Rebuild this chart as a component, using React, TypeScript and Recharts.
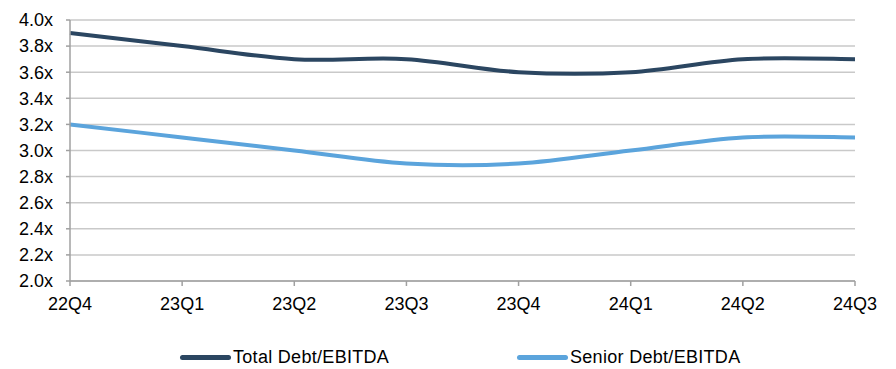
import { LineChart, Line, XAxis, YAxis, CartesianGrid, Legend } from 'recharts';

const quarters = ['22Q4', '23Q1', '23Q2', '23Q3', '23Q4', '24Q1', '24Q2', '24Q3'];
const totalDebt = [3.9, 3.8, 3.7, 3.7, 3.6, 3.6, 3.7, 3.7];
const seniorDebt = [3.2, 3.1, 3.0, 2.9, 2.9, 3.0, 3.1, 3.1];
const yTicks = [2.0, 2.2, 2.4, 2.6, 2.8, 3.0, 3.2, 3.4, 3.6, 3.8, 4.0];

const data = quarters.map((q, i) => ({ q, total: totalDebt[i], senior: seniorDebt[i] }));

const DARK = '#2b4661';
const LIGHT = '#5ba4dc';
const FONT = '"Liberation Sans", Arial, sans-serif';

// excel-style smoothed line (bezier, control points at 1/6 of neighbour span)
function smoothCurve(ctx: any) {
  let pts: number[][] = [];
  return {
    areaStart() {},
    areaEnd() {},
    lineStart() { pts = []; },
    point(x: number, y: number) { pts.push([+x, +y]); },
    lineEnd() {
      if (!pts.length) return;
      ctx.moveTo(pts[0][0], pts[0][1]);
      for (let i = 0; i < pts.length - 1; i++) {
        const p0 = pts[Math.max(i - 1, 0)];
        const p1 = pts[i];
        const p2 = pts[i + 1];
        const p3 = pts[Math.min(i + 2, pts.length - 1)];
        ctx.bezierCurveTo(
          p1[0] + (p2[0] - p0[0]) / 6, p1[1] + (p2[1] - p0[1]) / 6,
          p2[0] - (p3[0] - p1[0]) / 6, p2[1] - (p3[1] - p1[1]) / 6,
          p2[0], p2[1]
        );
      }
    },
  };
}

const legendItems = [
  { label: 'Total Debt/EBITDA', color: DARK },
  { label: 'Senior Debt/EBITDA', color: LIGHT },
];

function renderLegend() {
  return (
    <div style={{ position: 'relative', height: 48, fontFamily: FONT, fontSize: 18, color: '#000' }}>
      {legendItems.map((it, i) => (
        <div key={it.label} style={{ position: 'absolute', left: i === 0 ? 180 : 517, top: 26, display: 'flex', alignItems: 'center', whiteSpace: 'nowrap' }}>
          <span style={{ display: 'inline-block', width: 51, height: 5, borderRadius: 2.5, background: it.color }} />
          <span style={{ marginLeft: 2, letterSpacing: 0.3 }}>{it.label}</span>
        </div>
      ))}
    </div>
  );
}

export default function App() {
  return (
    <div style={{ position: 'absolute', left: 0, top: 0, background: '#fff' }}>
      <LineChart width={896} height={369} data={data} margin={{ top: 20, right: 41, left: 0, bottom: 0 }}>
        <CartesianGrid vertical={false} stroke="#c9c9c9" strokeWidth={1.5} />
        <XAxis
          dataKey="q"
          height={40}
          stroke="#a0a0a0"
          strokeWidth={1.5}
          tickSize={5}
          tickMargin={11}
          interval={0}
          tick={{ fill: '#000', fontSize: 18, fontFamily: FONT }}
        />
        <YAxis
          width={70}
          domain={[2, 4]}
          ticks={yTicks}
          interval={0}
          stroke="#a0a0a0"
          strokeWidth={1.5}
          tickSize={4}
          tickMargin={13}
          tickFormatter={(v: number) => v.toFixed(1) + 'x'}
          tick={{ fill: '#000', fontSize: 18, fontFamily: FONT }}
        />
        <Legend verticalAlign="bottom" height={48} content={renderLegend} />
        <Line dataKey="total" type={smoothCurve as any} stroke={DARK} strokeWidth={4} dot={false} isAnimationActive={false} />
        <Line dataKey="senior" type={smoothCurve as any} stroke={LIGHT} strokeWidth={4} dot={false} isAnimationActive={false} />
      </LineChart>
    </div>
  );
}
